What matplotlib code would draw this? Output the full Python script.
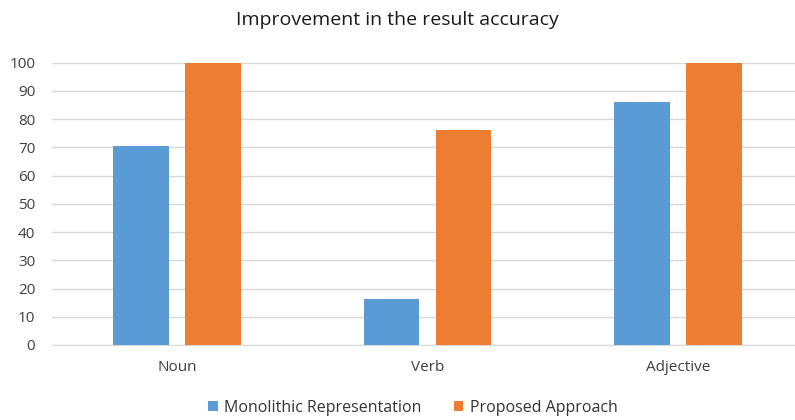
import matplotlib
matplotlib.use("Agg")
import matplotlib.pyplot as plt
import numpy as np

categories = ["Noun", "Verb", "Adjective"]
monolithic = [70.5, 16.3, 86.1]
proposed = [100, 76.2, 100]
series_names = ["Monolithic Representation", "Proposed Approach"]
yticks = list(range(0, 101, 10))

plt.rcParams['font.family'] = ['Open Sans', 'DejaVu Sans']

W, H = 795, 420
fig = plt.figure(figsize=(W / 100, H / 100), dpi=100)
left_px, right_px, top_px, bottom_px = 52, 795, 62.7, 345
ax = fig.add_axes([left_px / W, (H - bottom_px) / H, (right_px - left_px) / W, (bottom_px - top_px) / H])

cat_px = 250.3
x = np.arange(len(categories))
bw = 55.5 / cat_px
off = 36 / cat_px
blue = "#5B9BD5"
orange = "#ED7D31"
ax.bar(x - off, monolithic, bw, color=blue, label=series_names[0], zorder=3)
ax.bar(x + off, proposed, bw, color=orange, label=series_names[1], zorder=3)

ax.set_xlim(-0.5, -0.5 + (right_px - left_px) / cat_px)
ax.set_ylim(0, 100)
ax.set_yticks(yticks)
ax.set_xticks(x)
ax.set_xticklabels(categories)
ax.yaxis.grid(True, color="#D9D9D9", linewidth=1, zorder=0)
for s in ["top", "right", "left"]:
    ax.spines[s].set_visible(False)
ax.spines["bottom"].set_color("#D9D9D9")
ax.tick_params(axis="both", length=0, labelsize=11, colors="#404040")
ax.tick_params(axis="y", pad=12)
ax.tick_params(axis="x", pad=11)

fig.text(0.5, 1 - 20 / H, "Improvement in the result accuracy", ha="center", va="center",
         fontsize=14, color="#1a1a1a")

fig.legend(loc="center", bbox_to_anchor=(413 / W, 1 - 408 / H), ncol=2, frameon=False,
           fontsize=11.5, handlelength=0.6, handleheight=0.6, handletextpad=0.4,
           columnspacing=2.0, labelcolor="#333333")

fig.savefig("out.png", dpi=100)
